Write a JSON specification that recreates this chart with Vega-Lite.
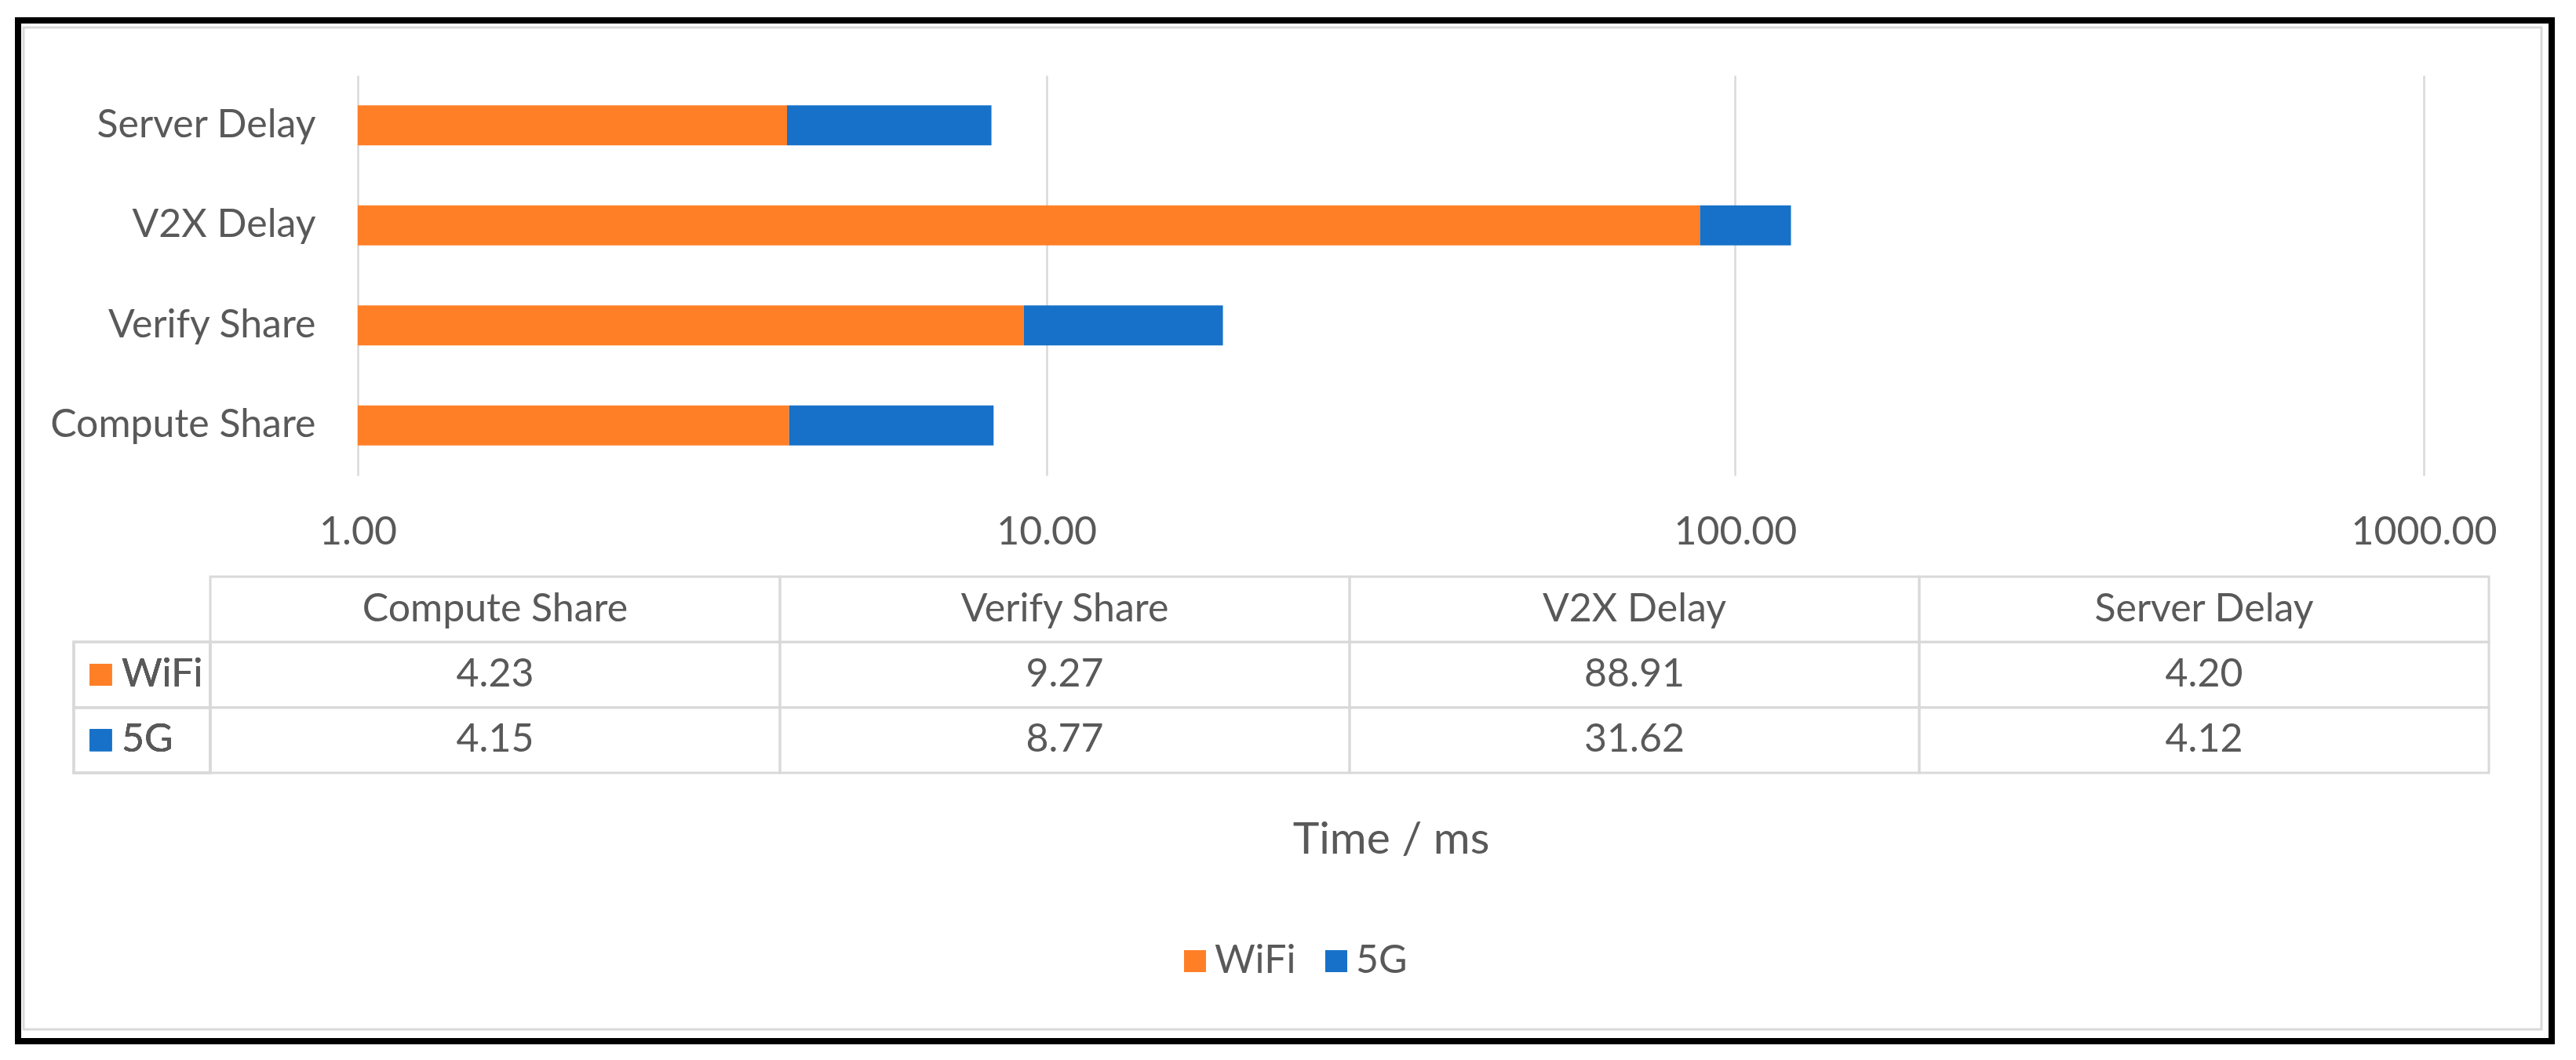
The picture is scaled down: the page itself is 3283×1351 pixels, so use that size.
{
  "$schema": "https://vega.github.io/schema/vega-lite/v6.json",
  "width": 2633,
  "height": 510,
  "autosize": {"type": "none"},
  "padding": {"left": 456, "top": 96, "right": 194, "bottom": 745},
  "background": "white",
  "config": {"view": {"stroke": null}, "font": "Lato"},
  "data": {"values": [
    {"task": "Compute Share", "series": "WiFi", "value": 4.23},
    {"task": "Compute Share", "series": "5G", "value": 4.15},
    {"task": "Verify Share", "series": "WiFi", "value": 9.27},
    {"task": "Verify Share", "series": "5G", "value": 8.77},
    {"task": "V2X Delay", "series": "WiFi", "value": 88.91},
    {"task": "V2X Delay", "series": "5G", "value": 31.62},
    {"task": "Server Delay", "series": "WiFi", "value": 4.20},
    {"task": "Server Delay", "series": "5G", "value": 4.12}
  ]},
  "resolve": {"scale": {"x": "independent", "y": "independent"}},
  "layer": [
    {
      "data": {"values": [{"frame": "outer"}]},
      "mark": {"type": "rect", "fill": "transparent", "stroke": "black", "strokeWidth": 8},
      "encoding": {
        "x": {"datum": 0, "type": "quantitative", "scale": {"domain": [0, 1], "range": [-433, 2796], "nice": false, "zero": false}, "axis": null},
        "x2": {"datum": 1},
        "y": {"datum": 0, "type": "quantitative", "scale": {"domain": [0, 1], "range": [-70, 1231], "nice": false, "zero": false}, "axis": null},
        "y2": {"datum": 1}
      }
    },
    {
      "data": {"values": [{"frame": "inner"}]},
      "mark": {"type": "rect", "fill": "transparent", "stroke": "#d9d9d9", "strokeWidth": 3},
      "encoding": {
        "x": {"datum": 0, "type": "quantitative", "scale": {"domain": [0, 1], "range": [-426, 2783], "nice": false, "zero": false}, "axis": null},
        "x2": {"datum": 1},
        "y": {"datum": 0, "type": "quantitative", "scale": {"domain": [0, 1], "range": [-61, 1216], "nice": false, "zero": false}, "axis": null},
        "y2": {"datum": 1}
      }
    },
    {
      "transform": [
        {"stack": "value", "groupby": ["task"], "sort": [{"field": "series", "order": "descending"}], "as": ["v0", "v1"]}
      ],
      "mark": {"type": "bar"},
      "encoding": {
        "y": {
          "field": "task", "type": "nominal",
          "sort": ["Server Delay", "V2X Delay", "Verify Share", "Compute Share"],
          "scale": {"paddingInner": 0.6, "paddingOuter": 0.3},
          "axis": {"title": null, "ticks": false, "tickSize": 0, "domain": false, "labelFontSize": 50, "labelColor": "#595959", "labelPadding": 54, "labelFont": "Lato", "labelLimit": 0}
        },
        "x": {
          "field": "v0", "type": "quantitative",
          "scale": {"type": "log", "domain": [1, 1000], "clamp": true},
          "axis": {
            "title": "Time / ms", "values": [1, 10, 100, 1000], "format": ".2f",
            "grid": true, "gridColor": "#d9d9d9", "gridWidth": 2.5,
            "domain": false, "ticks": false, "tickSize": 0,
            "labelFontSize": 50, "labelColor": "#595959", "labelFont": "Lato", "labelPadding": 47, "labelLimit": 0,
            "labelFlush": false, "labelOverlap": false,
            "titleFontSize": 57, "titleFontWeight": "normal", "titleColor": "#595959", "titleFont": "Lato",
            "titleY": 464, "titleBaseline": "middle"
          }
        },
        "x2": {"field": "v1"},
        "color": {
          "field": "series", "type": "nominal",
          "scale": {"domain": ["WiFi", "5G"], "range": ["#FF7F27", "#1771C8"]},
          "legend": {
            "orient": "none", "legendX": 1042, "legendY": 1104, "direction": "horizontal",
            "title": null, "symbolType": "square", "symbolSize": 784, "symbolStrokeWidth": 0,
            "labelFontSize": 50, "labelColor": "#595959", "labelFont": "Lato", "labelLimit": 0,
            "columnPadding": 26, "labelOffset": 0
          }
        }
      }
    },
    {
      "layer": [
        {
          "mark": {"type": "rect", "fill": "transparent", "stroke": "#d9d9d9", "strokeWidth": 3},
          "encoding": {
            "x": {"field": "task", "type": "nominal", "scale": {"type": "band", "domain": ["Compute Share", "Verify Share", "V2X Delay", "Server Delay"], "range": [-188, 2716], "paddingInner": 0, "paddingOuter": 0}, "axis": null},
            "y": {"field": "series", "type": "nominal", "scale": {"type": "band", "domain": ["Header", "WiFi", "5G"], "range": [639, 889], "paddingInner": 0, "paddingOuter": 0}, "axis": null}
          }
        },
        {
          "transform": [{"filter": "datum.series === 'WiFi'"}],
          "mark": {"type": "rect", "fill": "transparent", "stroke": "#d9d9d9", "strokeWidth": 3},
          "encoding": {
            "x": {"field": "task", "type": "nominal", "axis": null},
            "y": {"datum": "Header", "type": "nominal", "axis": null}
          }
        },
        {
          "transform": [{"filter": "datum.series === 'WiFi'"}],
          "mark": {"type": "text", "fontSize": 50, "color": "#595959", "font": "Lato"},
          "encoding": {
            "x": {"field": "task", "type": "nominal", "axis": null},
            "y": {"datum": "Header", "type": "nominal", "axis": null},
            "text": {"field": "task", "type": "nominal"}
          }
        },
        {
          "mark": {"type": "text", "fontSize": 50, "color": "#595959", "font": "Lato"},
          "encoding": {
            "x": {"field": "task", "type": "nominal", "axis": null},
            "y": {"field": "series", "type": "nominal", "axis": null},
            "text": {"field": "value", "type": "quantitative", "format": ".2f"}
          }
        }
      ]
    },
    {
      "layer": [
        {
          "mark": {"type": "rect", "fill": "transparent", "stroke": "#d9d9d9", "strokeWidth": 3},
          "encoding": {
            "x": {"datum": 0, "type": "quantitative", "scale": {"domain": [0, 1], "range": [-362, -188], "nice": false, "zero": false}, "axis": null},
            "x2": {"datum": 1},
            "y": {"field": "series", "type": "nominal", "scale": {"type": "band", "domain": ["Header", "WiFi", "5G"], "range": [639, 889], "paddingInner": 0, "paddingOuter": 0}, "axis": null}
          }
        },
        {
          "mark": {"type": "square", "size": 784, "opacity": 1},
          "encoding": {
            "x": {"datum": 0.198, "type": "quantitative", "axis": null},
            "y": {"field": "series", "type": "nominal", "axis": null},
            "color": {"field": "series", "type": "nominal", "legend": null}
          }
        },
        {
          "mark": {"type": "text", "fontSize": 50, "color": "#595959", "font": "Lato", "align": "left"},
          "encoding": {
            "x": {"datum": 0.35, "type": "quantitative", "axis": null},
            "y": {"field": "series", "type": "nominal", "axis": null},
            "text": {"field": "series", "type": "nominal"}
          }
        }
      ]
    }
  ]
}
